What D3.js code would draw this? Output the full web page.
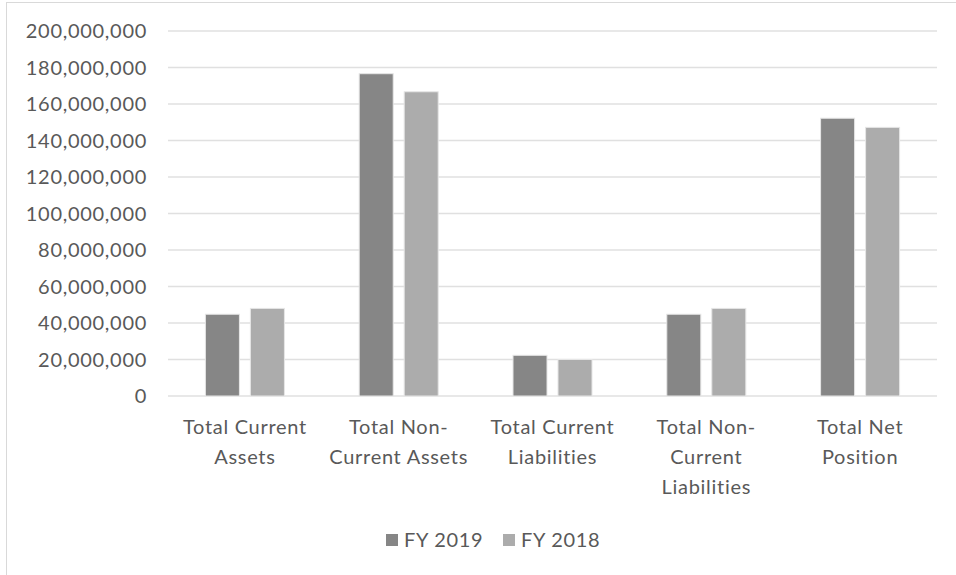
<!DOCTYPE html>
<html>
<head>
<meta charset="utf-8">
<script src="https://cdn.jsdelivr.net/npm/d3@7"></script>
<style>
  body { margin: 0; background: #fff; }
  svg { display: block; }
  text { font-family: Lato, "Open Sans", sans-serif; fill: #595959; font-size: 20px; letter-spacing: 0.7px; }
</style>
</head>
<body>
<svg width="956" height="575"></svg>
<script>
const categories = ["Total Current Assets", "Total Non-Current Assets", "Total Current Liabilities", "Total Non-Current Liabilities", "Total Net Position"];
const categoryLines = [
    ["Total Current", "Assets"],
    ["Total Non-", "Current Assets"],
    ["Total Current", "Liabilities"],
    ["Total Non-", "Current", "Liabilities"],
    ["Total Net", "Position"]
];
const seriesNames = ["FY 2019", "FY 2018"];
const fy2019 = [44800000, 176600000, 22300000, 44800000, 152200000];
const fy2018 = [48000000, 166700000, 20000000, 48000000, 147200000];
const yTicks = [0, 20000000, 40000000, 60000000, 80000000, 100000000, 120000000, 140000000, 160000000, 180000000, 200000000];
const colors = ["#868686", "#acacac"];

const svg = d3.select("svg");

// outer chart border
svg.append("rect")
    .attr("x", 6.5).attr("y", 2.5)
    .attr("width", 960).attr("height", 580)
    .attr("fill", "none")
    .attr("stroke", "#d9d9d9");

const y = d3.scaleLinear().domain([0, 200000000]).range([396, 31]);
const x = d3.scaleBand().domain(categories).range([168, 937]);
const xInner = d3.scaleBand().domain(seriesNames).range([0, x.bandwidth()])
    .paddingInner(0.244).paddingOuter(0.831);

// gridlines
svg.append("g").selectAll("line")
    .data(yTicks)
    .join("line")
    .attr("x1", 168).attr("x2", 937)
    .attr("y1", d => y(d)).attr("y2", d => y(d))
    .attr("stroke", "#e0e0e0")
    .attr("stroke-width", 1.6);

// y axis labels
const fmt = d3.format(",");
svg.append("g").selectAll("text")
    .data(yTicks)
    .join("text")
    .attr("x", 147)
    .attr("y", d => y(d))
    .attr("dy", "0.35em")
    .attr("text-anchor", "end")
    .text(d => fmt(d));

// bars
const rows = categories.map((c, i) => ({ cat: c, values: [fy2019[i], fy2018[i]] }));
const groups = svg.append("g").selectAll("g")
    .data(rows)
    .join("g")
    .attr("transform", d => `translate(${x(d.cat)},0)`);

groups.selectAll("rect")
    .data(d => d.values.map((v, j) => ({ series: seriesNames[j], value: v, j })))
    .join("rect")
    .attr("x", d => xInner(d.series))
    .attr("width", xInner.bandwidth())
    .attr("y", d => y(d.value))
    .attr("height", d => y(0) - y(d.value))
    .attr("fill", d => colors[d.j])
    .attr("stroke", "#e6e6e6")
    .attr("stroke-width", 1);

// category labels
const labels = svg.append("g").selectAll("text")
    .data(categories)
    .join("text")
    .attr("x", d => x(d) + x.bandwidth() / 2)
    .attr("y", 434)
    .attr("text-anchor", "middle");

labels.selectAll("tspan")
    .data((d, i) => categoryLines[i])
    .join("tspan")
    .attr("x", function () { return d3.select(this.parentNode).attr("x"); })
    .attr("dy", (d, i) => i === 0 ? 0 : 30)
    .text(d => d);

// legend
const legend = svg.append("g");
const legendX = [386, 503];
seriesNames.forEach((s, i) => {
    legend.append("rect")
        .attr("x", legendX[i]).attr("y", 534)
        .attr("width", 12).attr("height", 12)
        .attr("fill", colors[i]);
    legend.append("text")
        .attr("x", legendX[i] + 18).attr("y", 540)
        .attr("dy", "0.35em")
        .text(s);
});
</script>
</body>
</html>
